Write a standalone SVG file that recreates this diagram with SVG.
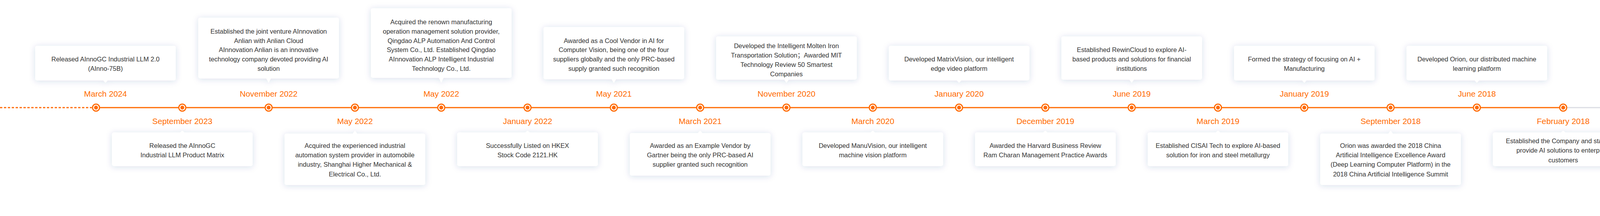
<svg xmlns="http://www.w3.org/2000/svg" width="4250" height="552" viewBox="0 0 4250 552">
<style>
.t{font-family:"Liberation Sans","Noto Sans CJK SC",sans-serif;font-size:16.5px;fill:#333;text-anchor:middle}
.d{font-family:"Liberation Sans",sans-serif;font-size:20.8px;fill:#ff6a00;text-anchor:middle}
.card{fill:#fff;filter:url(#sh)}
.ring{fill:#fff;stroke:#ff6a00;stroke-width:3}
.dot{fill:#ff6a00}
</style>
<defs>
<filter id="sh" x="-20%" y="-45%" width="140%" height="190%">
<feDropShadow dx="0" dy="2" stdDeviation="8" flood-color="#1f3d8a" flood-opacity="0.17"/>
</filter>
</defs>
<rect width="4250" height="552" fill="#fff"/>
<g id="connectors">
<line x1="0" y1="275" x2="235" y2="275" stroke="#ff6a00" stroke-width="3" stroke-dasharray="6 4"/>
<line x1="245.8" y1="275" x2="4001.8" y2="275" stroke="#ff6a00" stroke-width="3"/>
<line x1="4001.8" y1="275" x2="4250" y2="275" stroke="#dcdde3" stroke-width="3"/>
</g>

<g id="n0">
<g class="card"><rect x="90" y="117" width="360" height="88.5" rx="5"/><polygon points="264,205 276,205 270,211.5"/></g>
<text class="t"><tspan x="270" y="157.4">Released AInnoGC Industrial LLM 2.0</tspan><tspan x="270" y="181.3">(AInno-75B)</tspan></text>
<text class="d" x="270" y="246.7">March 2024</text>
<circle class="ring" cx="245.8" cy="275" r="9"/><circle class="dot" cx="245.8" cy="275" r="5"/>
</g>

<g id="n1">
<g class="card"><rect x="286.7" y="338.5" width="360" height="86" rx="5"/><polygon points="460.7,339 472.7,339 466.7,334"/></g>
<text class="t"><tspan x="466.7" y="378.4">Released the AInnoGC</tspan><tspan x="466.7" y="402.3">Industrial LLM Product Matrix</tspan></text>
<text class="d" x="466.7" y="317">September 2023</text>
<circle class="ring" cx="466.7" cy="275" r="9"/><circle class="dot" cx="466.7" cy="275" r="5"/>
</g>

<g id="n2">
<g class="card"><rect x="507.7" y="45" width="360" height="155.5" rx="5"/><polygon points="681.7,200 693.7,200 687.7,211.5"/></g>
<text class="t"><tspan x="687.7" y="85.6">Established the joint venture AInnovation</tspan><tspan x="687.7" y="109.5">Anlian with Anlian Cloud</tspan><tspan x="687.7" y="133.4">AInnovation Anlian is an innovative</tspan><tspan x="687.7" y="157.4">technology company devoted providing AI</tspan><tspan x="687.7" y="181.3">solution</tspan></text>
<text class="d" x="687.7" y="246.7">November 2022</text>
<circle class="ring" cx="687.7" cy="275" r="9"/><circle class="dot" cx="687.7" cy="275" r="5"/>
</g>

<g id="n3">
<g class="card"><rect x="728.6" y="341.4" width="360" height="131.3" rx="5"/><polygon points="902.6,342 914.6,342 908.6,334"/></g>
<text class="t"><tspan x="908.6" y="378.4">Acquired the experienced industrial</tspan><tspan x="908.6" y="402.3">automation system provider in automobile</tspan><tspan x="908.6" y="426.3">industry, Shanghai Higher Mechanical &amp;</tspan><tspan x="908.6" y="450.6">Electrical Co., Ltd.</tspan></text>
<text class="d" x="908.6" y="317">May 2022</text>
<circle class="ring" cx="908.6" cy="275" r="9"/><circle class="dot" cx="908.6" cy="275" r="5"/>
</g>

<g id="n4">
<g class="card"><rect x="949.6" y="21" width="360" height="178" rx="5"/><polygon points="1123.6,198.5 1135.6,198.5 1129.6,211.5"/></g>
<text class="t"><tspan x="1129.6" y="61.6">Acquired the renown manufacturing</tspan><tspan x="1129.6" y="85.5">operation management solution provider,</tspan><tspan x="1129.6" y="109.5">Qingdao ALP Automation And Control</tspan><tspan x="1129.6" y="133.4">System Co., Ltd. Established Qingdao</tspan><tspan x="1129.6" y="157.4">AInnovation ALP Intelligent Industrial</tspan><tspan x="1129.6" y="181.3">Technology Co., Ltd.</tspan></text>
<text class="d" x="1129.6" y="246.7">May 2022</text>
<circle class="ring" cx="1129.6" cy="275" r="9"/><circle class="dot" cx="1129.6" cy="275" r="5"/>
</g>

<g id="n5">
<g class="card"><rect x="1170.5" y="338.5" width="360" height="86" rx="5"/><polygon points="1344.5,339 1356.5,339 1350.5,334"/></g>
<text class="t"><tspan x="1350.5" y="378.4">Successfully Listed on HKEX</tspan><tspan x="1350.5" y="402.3">Stock Code 2121.HK</tspan></text>
<text class="d" x="1350.5" y="317">January 2022</text>
<circle class="ring" cx="1350.5" cy="275" r="9"/><circle class="dot" cx="1350.5" cy="275" r="5"/>
</g>

<g id="n6">
<g class="card"><rect x="1391.4" y="69" width="360" height="133.5" rx="5"/><polygon points="1565.4,202 1577.4,202 1571.4,211.5"/></g>
<text class="t"><tspan x="1571.4" y="109.5">Awarded as a Cool Vendor in AI for</tspan><tspan x="1571.4" y="133.4">Computer Vision, being one of the four</tspan><tspan x="1571.4" y="157.4">suppliers globally and the only PRC-based</tspan><tspan x="1571.4" y="181.3">supply granted such recognition</tspan></text>
<text class="d" x="1571.4" y="246.7">May 2021</text>
<circle class="ring" cx="1571.4" cy="275" r="9"/><circle class="dot" cx="1571.4" cy="275" r="5"/>
</g>

<g id="n7">
<g class="card"><rect x="1612.4" y="340" width="360" height="108.8" rx="5"/><polygon points="1786.4,340.5 1798.4,340.5 1792.4,334"/></g>
<text class="t"><tspan x="1792.4" y="378.4">Awarded as an Example Vendor by</tspan><tspan x="1792.4" y="402.3">Gartner being the only PRC-based AI</tspan><tspan x="1792.4" y="426.3">supplier granted such recognition</tspan></text>
<text class="d" x="1792.4" y="317">March 2021</text>
<circle class="ring" cx="1792.4" cy="275" r="9"/><circle class="dot" cx="1792.4" cy="275" r="5"/>
</g>

<g id="n8">
<g class="card"><rect x="1833.3" y="93" width="360" height="110.5" rx="5"/><polygon points="2007.3,203 2019.3,203 2013.3,211.5"/></g>
<text class="t"><tspan x="2013.3" y="123.2">Developed the Intelligent Molten Iron</tspan><tspan x="2013.3" y="147.2">Transportation Solution；Awarded MIT</tspan><tspan x="2013.3" y="171.1">Technology Review 50 Smartest</tspan><tspan x="2013.3" y="195.4">Companies</tspan></text>
<text class="d" x="2013.3" y="246.7">November 2020</text>
<circle class="ring" cx="2013.3" cy="275" r="9"/><circle class="dot" cx="2013.3" cy="275" r="5"/>
</g>

<g id="n9">
<g class="card"><rect x="2054.3" y="338.5" width="360" height="86" rx="5"/><polygon points="2228.3,339 2240.3,339 2234.3,334"/></g>
<text class="t"><tspan x="2234.3" y="378.4">Developed ManuVision, our intelligent</tspan><tspan x="2234.3" y="402.3">machine vision platform</tspan></text>
<text class="d" x="2234.3" y="317">March 2020</text>
<circle class="ring" cx="2234.3" cy="275" r="9"/><circle class="dot" cx="2234.3" cy="275" r="5"/>
</g>

<g id="n10">
<g class="card"><rect x="2275.2" y="117" width="360" height="88.5" rx="5"/><polygon points="2449.2,205 2461.2,205 2455.2,211.5"/></g>
<text class="t"><tspan x="2455.2" y="157.4">Developed MatrixVision, our intelligent</tspan><tspan x="2455.2" y="181.3">edge video platform</tspan></text>
<text class="d" x="2455.2" y="246.7">January 2020</text>
<circle class="ring" cx="2455.2" cy="275" r="9"/><circle class="dot" cx="2455.2" cy="275" r="5"/>
</g>

<g id="n11">
<g class="card"><rect x="2496.1" y="338.5" width="360" height="86" rx="5"/><polygon points="2670.1,339 2682.1,339 2676.1,334"/></g>
<text class="t"><tspan x="2676.1" y="378.4">Awarded the Harvard Business Review</tspan><tspan x="2676.1" y="402.3">Ram Charan Management Practice Awards</tspan></text>
<text class="d" x="2676.1" y="317">December 2019</text>
<circle class="ring" cx="2676.1" cy="275" r="9"/><circle class="dot" cx="2676.1" cy="275" r="5"/>
</g>

<g id="n12">
<g class="card"><rect x="2717.1" y="93" width="360" height="110.5" rx="5"/><polygon points="2891.1,203 2903.1,203 2897.1,211.5"/></g>
<text class="t"><tspan x="2897.1" y="133.4">Established RewinCloud to explore AI-</tspan><tspan x="2897.1" y="157.4">based products and solutions for financial</tspan><tspan x="2897.1" y="181.3">institutions</tspan></text>
<text class="d" x="2897.1" y="246.7">June 2019</text>
<circle class="ring" cx="2897.1" cy="275" r="9"/><circle class="dot" cx="2897.1" cy="275" r="5"/>
</g>

<g id="n13">
<g class="card"><rect x="2938" y="338.5" width="360" height="86" rx="5"/><polygon points="3112,339 3124,339 3118,334"/></g>
<text class="t"><tspan x="3118" y="378.4">Established CISAI Tech to explore AI-based</tspan><tspan x="3118" y="402.3">solution for iron and steel metallurgy</tspan></text>
<text class="d" x="3118" y="317">March 2019</text>
<circle class="ring" cx="3118" cy="275" r="9"/><circle class="dot" cx="3118" cy="275" r="5"/>
</g>

<g id="n14">
<g class="card"><rect x="3159" y="117" width="360" height="88.5" rx="5"/><polygon points="3333,205 3345,205 3339,211.5"/></g>
<text class="t"><tspan x="3339" y="157.4">Formed the strategy of focusing on AI +</tspan><tspan x="3339" y="181.3">Manufacturing</tspan></text>
<text class="d" x="3339" y="246.7">January 2019</text>
<circle class="ring" cx="3339" cy="275" r="9"/><circle class="dot" cx="3339" cy="275" r="5"/>
</g>

<g id="n15">
<g class="card"><rect x="3379.9" y="341.4" width="360" height="131.3" rx="5"/><polygon points="3553.9,342 3565.9,342 3559.9,334"/></g>
<text class="t"><tspan x="3559.9" y="378.4">Orion was awarded the 2018 China</tspan><tspan x="3559.9" y="402.3">Artificial Intelligence Excellence Award</tspan><tspan x="3559.9" y="426.3">(Deep Learning Computer Platform) in the</tspan><tspan x="3559.9" y="450.6">2018 China Artificial Intelligence Summit</tspan></text>
<text class="d" x="3559.9" y="317">September 2018</text>
<circle class="ring" cx="3559.9" cy="275" r="9"/><circle class="dot" cx="3559.9" cy="275" r="5"/>
</g>

<g id="n16">
<g class="card"><rect x="3600.8" y="117" width="360" height="88.5" rx="5"/><polygon points="3774.8,205 3786.8,205 3780.8,211.5"/></g>
<text class="t"><tspan x="3780.8" y="157.4">Developed Orion, our distributed machine</tspan><tspan x="3780.8" y="181.3">learning platform</tspan></text>
<text class="d" x="3780.8" y="246.7">June 2018</text>
<circle class="ring" cx="3780.8" cy="275" r="9"/><circle class="dot" cx="3780.8" cy="275" r="5"/>
</g>

<g id="n17">
<g class="card"><rect x="3821.8" y="338.5" width="360" height="86" rx="5"/><polygon points="3995.8,339 4007.8,339 4001.8,334"/></g>
<text class="t"><tspan x="4001.8" y="366.4">Established the Company and started to</tspan><tspan x="4001.8" y="390.4">provide AI solutions to enterprise</tspan><tspan x="4001.8" y="414.7">customers</tspan></text>
<text class="d" x="4001.8" y="317">February 2018</text>
<circle class="ring" cx="4001.8" cy="275" r="9"/><circle class="dot" cx="4001.8" cy="275" r="5"/>
</g>
</svg>
